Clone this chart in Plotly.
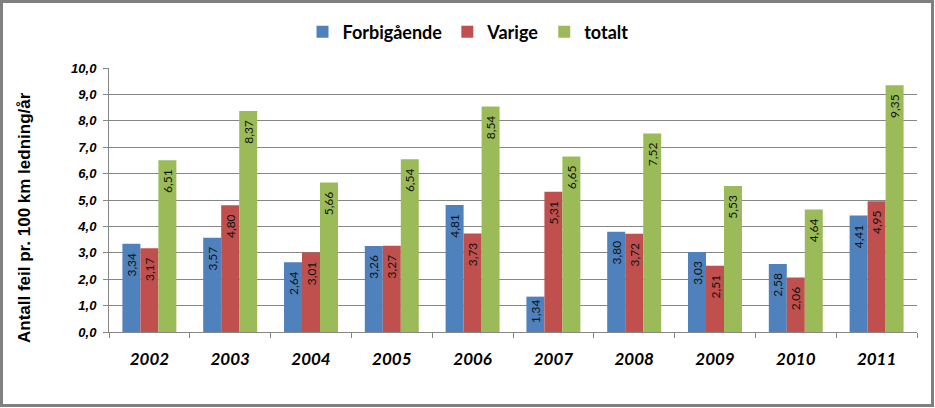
import plotly.graph_objects as go

years = ["2002", "2003", "2004", "2005", "2006", "2007", "2008", "2009", "2010", "2011"]
forbigaende = [3.34, 3.57, 2.64, 3.26, 4.81, 1.34, 3.80, 3.03, 2.58, 4.41]
varige = [3.17, 4.80, 3.01, 3.27, 3.73, 5.31, 3.72, 2.51, 2.06, 4.95]
totalt = [6.51, 8.37, 5.66, 6.54, 8.54, 6.65, 7.52, 5.53, 4.64, 9.35]
series_names = ["Forbigående", "Varige", "totalt"]
colors = ["#4F81BD", "#C0504D", "#9BBB59"]
y_title = "Antall feil pr. 100 km ledning/år"


def lbl(vals):
    out = []
    for v in vals:
        s = f"{v:.2f}".replace(".", ",")
        if v > 2:
            s = s + "\u00a0\u00a0"
        out.append(s)
    return out


fig = go.Figure()
for name, vals, col in zip(series_names, [forbigaende, varige, totalt], colors):
    fig.add_trace(go.Bar(
        x=years, y=vals, name=name, marker=dict(color=col, line=dict(width=0)),
        text=lbl(vals), textposition="inside", insidetextanchor="end",
        textangle=-90, constraintext="none",
        textfont=dict(family="Lato", size=12, color="#111111"),
        hoverinfo="skip",
    ))

W, H = 935, 408
L, R, T, B = 109, 18, 68, 76
pw, ph = W - L - R, H - T - B


def px2x(px):
    return (px - L) / pw


def py2y(py):
    return (H - B - py) / ph


fig.update_layout(
    width=W, height=H,
    margin=dict(l=L, r=R, t=T, b=B),
    paper_bgcolor="white", plot_bgcolor="white",
    barmode="group", bargap=0.332, bargroupgap=0,
    separators=",.",
    showlegend=True,
    legend=dict(orientation="h", x=px2x(468), xanchor="center", y=py2y(32), yanchor="middle",
                font=dict(family="Lato", size=18, color="#000000", weight="bold"),
                itemwidth=30, tracegroupgap=0, traceorder="normal"),
    font=dict(family="Liberation Sans"),
)

fig.update_yaxes(
    range=[0, 10], dtick=1, tickformat=".1f",
    showgrid=True, gridcolor="#868686", gridwidth=1,
    showline=True, linecolor="#868686", linewidth=1,
    ticks="outside", ticklen=5, tickcolor="#868686",
    tickfont=dict(family="Liberation Sans", size=13, color="#000000", style="italic", weight="bold"),
    ticklabelstandoff=4,
    zeroline=False, fixedrange=True,
)
fig.update_xaxes(
    showline=True, linecolor="#868686", linewidth=1,
    ticks="outside", ticklen=5, tickcolor="#868686", tickson="boundaries",
    tickfont=dict(family="Lato", size=17, color="#000000", weight="bold", style="italic"),
    ticklabelstandoff=12,
    showgrid=False, fixedrange=True,
)

fig.add_annotation(
    text=y_title, textangle=-90, xref="paper", yref="paper",
    x=px2x(25), y=py2y(218), xanchor="center", yanchor="middle", showarrow=False,
    font=dict(family="Liberation Sans", size=17, color="#000000", weight="bold"),
)

# chart frame
fig.add_shape(type="rect", xref="paper", yref="paper",
              x0=px2x(1.5), x1=px2x(932.5), y0=py2y(405.5), y1=py2y(1.5),
              line=dict(color="#808080", width=3), fillcolor="rgba(0,0,0,0)", layer="above")

fig.write_html("out.html", config={"displayModeBar": False},
               post_script="document.body.style.margin='0';")
